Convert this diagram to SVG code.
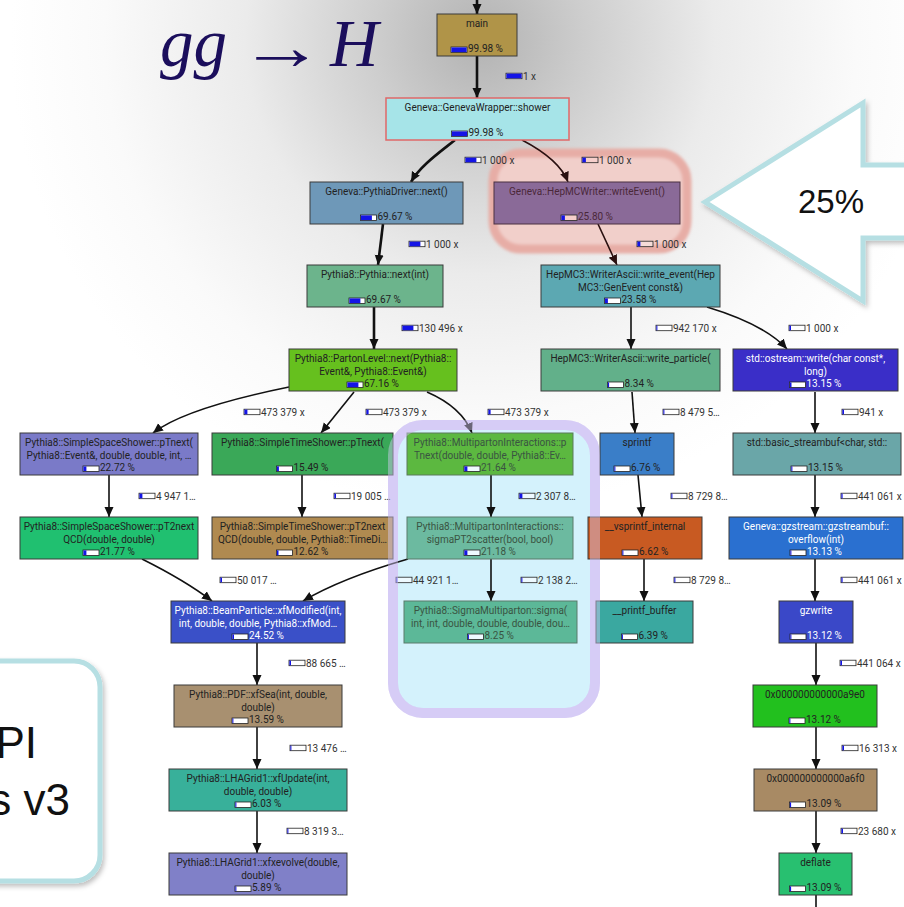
<svg xmlns="http://www.w3.org/2000/svg" width="904" height="907" viewBox="0 0 904 907">
<defs>
<radialGradient id="bg" cx="480" cy="40" r="470" gradientUnits="userSpaceOnUse">
<stop offset="0" stop-color="#b2b2b2"/>
<stop offset="0.22" stop-color="#cdcdcd"/>
<stop offset="0.5" stop-color="#ebebeb"/>
<stop offset="0.8" stop-color="#fafafa"/>
<stop offset="1" stop-color="#ffffff"/>
</radialGradient>
<filter id="sh" x="-20%" y="-20%" width="140%" height="140%">
<feDropShadow dx="2" dy="3" stdDeviation="2.5" flood-color="#000" flood-opacity="0.25"/>
</filter>
<filter id="soft" x="-10%" y="-10%" width="120%" height="120%">
<feGaussianBlur stdDeviation="1.5"/>
</filter>
<marker id="ah" markerUnits="userSpaceOnUse" markerWidth="10" markerHeight="10" refX="10" refY="4.5" orient="auto">
<path d="M0,0 L10,4.5 L0,9 z" fill="#111"/>
</marker>
<marker id="ahr" markerUnits="userSpaceOnUse" markerWidth="10" markerHeight="10" refX="10" refY="4.5" orient="auto">
<path d="M0,0 L10,4.5 L0,9 z" fill="#2a1010"/>
</marker>
<style>
.nd rect.b{stroke:#3a3a3a;stroke-width:1}
.nd text{font-family:Roboto,"Noto Sans",sans-serif;font-size:10px;fill:#222}
.nd text.c{text-anchor:middle}
.nd.w text{fill:#ffffff}
.nd.m text{fill:#3a5442}
.nd.r text{fill:#4a2838}
.bw{fill:#ffffff;stroke:#222;stroke-width:0.8}
.bb{fill:#1414e6}
.lb text{font-family:Roboto,"Noto Sans",sans-serif;font-size:10px;fill:#333}
.e{fill:none;stroke:#111;stroke-width:1.6;marker-end:url(#ah)}
.e.t{stroke-width:2.6}
.e.r{stroke:#2a1010;marker-end:url(#ahr)}
</style>
</defs>

<rect x="0" y="0" width="904" height="907" fill="url(#bg)"/>

<g id="title">
<text x="160" y="66" font-family="Liberation Serif, serif" font-style="italic" font-size="67" fill="#1b0e5c">gg</text>
<text transform="translate(239,69) scale(1.3,1)" x="0" y="0" font-family="Liberation Serif, DejaVu Serif, serif" font-size="66" fill="#1b0e5c">→</text>
<text x="330" y="66" font-family="Liberation Serif, serif" font-style="italic" font-size="67" fill="#1b0e5c">H</text>
</g>

<g id="callout-arrow">
<polygon points="705,202 863,103 863,165 912,165 912,238 863,238 863,301" fill="#ffffff" stroke="#b6dfe3" stroke-width="5" stroke-linejoin="miter" filter="url(#sh)"/>
<text x="798" y="213" font-family="Liberation Sans, Arial, sans-serif" font-size="33" fill="#111">25%</text>
</g>

<g id="side-box">
<rect x="-40" y="661" width="140" height="220" rx="26" fill="#ffffff" stroke="#b6dfe3" stroke-width="5" filter="url(#sh)"/>
<text x="37" y="758" text-anchor="end" font-family="Liberation Sans, Arial, sans-serif" font-size="44" fill="#111">PI</text>
<text x="70" y="815" text-anchor="end" font-family="Liberation Sans, Arial, sans-serif" font-size="44" fill="#111">s v3</text>
</g>

<g id="highlights">
<rect x="493" y="153" width="194" height="96" rx="28" fill="#f1cfca" stroke="#e7ada6" stroke-width="9" filter="url(#soft)"/>
<rect x="393" y="425" width="202" height="288" rx="30" fill="#d4f2fc" stroke="#d6cdf6" stroke-width="10"/>
</g>

<g id="connectors">
<path class="e t" d="M477,0 L477,14"/>
<path class="e t" d="M477,56 L477,98"/>
<path class="e t" d="M455,140 C440,152 420,166 411,182"/>
<path class="e r" d="M522,140 C545,152 562,166 568,182"/>
<path class="e t" d="M383,224 L378,265"/>
<path class="e r" d="M598,224 L617,265"/>
<path class="e t" d="M374,307 L374,349"/>
<path class="e" d="M631,307 L631,349"/>
<path class="e" d="M707,307 C740,317 770,330 787,349"/>
<path class="e" d="M289,387 C240,397 180,412 153,433"/>
<path class="e" d="M354,392 L321,433"/>
<path class="e" d="M427,392 C450,402 465,415 472,433"/>
<path class="e" d="M632,392 L635,433"/>
<path class="e" d="M815,392 L815,433"/>
<path class="e" d="M109,475 L109,517"/>
<path class="e" d="M302,475 L302,517"/>
<path class="e" d="M491,475 L491,517"/>
<path class="e" d="M638,475 L642,517"/>
<path class="e" d="M815,475 L815,517"/>
<path class="e" d="M142,559 C170,573 195,588 212,601"/>
<path class="e" d="M408,559 C370,570 330,585 303,601"/>
<path class="e" d="M491,559 L491,601"/>
<path class="e" d="M644,559 L644,601"/>
<path class="e" d="M815,559 L815,601"/>
<path class="e" d="M257,643 L257,685"/>
<path class="e" d="M816,643 L816,685"/>
<path class="e" d="M257,727 L257,769"/>
<path class="e" d="M816,727 L816,769"/>
<path class="e" d="M257,811 L257,853"/>
<path class="e" d="M816,811 L816,853"/>
<path d="M816,895 L816,907" fill="none" stroke="#111" stroke-width="1.6"/>
</g>

<g id="edge-labels" class="lb">
<rect class="bw" x="506" y="73.2" width="16" height="5.5"/><rect class="bb" x="506.4" y="73.6" width="15.2" height="4.7"/><text x="523" y="79.5">1 x</text>
<rect class="bw" x="465" y="157.2" width="16" height="5.5"/><rect class="bb" x="465.4" y="157.6" width="11" height="4.7"/><text x="482" y="163.5">1 000 x</text>
<rect class="bw" x="582" y="157.2" width="16" height="5.5" style="fill:#f6cfcb"/><rect class="bb" x="582.4" y="157.6" width="3.5" height="4.7"/><text x="599" y="163.5">1 000 x</text>
<rect class="bw" x="409" y="241.2" width="16" height="5.5"/><rect class="bb" x="409.4" y="241.6" width="11" height="4.7"/><text x="426" y="247.5">1 000 x</text>
<rect class="bw" x="637" y="241.2" width="16" height="5.5" style="fill:#f6dcd8"/><rect class="bb" x="637.4" y="241.6" width="3" height="4.7"/><text x="654" y="247.5">1 000 x</text>
<rect class="bw" x="402" y="325.2" width="16" height="5.5"/><rect class="bb" x="402.4" y="325.6" width="11" height="4.7"/><text x="419" y="331.5">130 496 x</text>
<rect class="bw" x="656" y="325.2" width="16" height="5.5"/><rect class="bb" x="656.4" y="325.6" width="1" height="4.7"/><text x="673" y="331.5">942 170 x</text>
<rect class="bw" x="789" y="325.2" width="16" height="5.5"/><rect class="bb" x="789.4" y="325.6" width="1.6" height="4.7"/><text x="806" y="331.5">1 000 x</text>
<rect class="bw" x="244" y="409.2" width="16" height="5.5"/><rect class="bb" x="244.4" y="409.6" width="3" height="4.7"/><text x="261" y="415.5">473 379 x</text>
<rect class="bw" x="366" y="409.2" width="16" height="5.5"/><rect class="bb" x="366.4" y="409.6" width="2.2" height="4.7"/><text x="383" y="415.5">473 379 x</text>
<rect class="bw" x="488" y="409.2" width="16" height="5.5"/><rect class="bb" x="488.4" y="409.6" width="2.2" height="4.7"/><text x="505" y="415.5">473 379 x</text>
<rect class="bw" x="663" y="409.2" width="16" height="5.5"/><rect class="bb" x="663.4" y="409.6" width="1" height="4.7"/><text x="680" y="415.5">8 479 5…</text>
<rect class="bw" x="842" y="409.2" width="16" height="5.5"/><rect class="bb" x="842.4" y="409.6" width="1.6" height="4.7"/><text x="859" y="415.5">941 x</text>
<rect class="bw" x="139" y="493.2" width="16" height="5.5"/><rect class="bb" x="139.4" y="493.6" width="3" height="4.7"/><text x="156" y="499.5">4 947 1…</text>
<rect class="bw" x="334" y="493.2" width="16" height="5.5"/><rect class="bb" x="334.4" y="493.6" width="1.6" height="4.7"/><text x="351" y="499.5">19 005 …</text>
<rect class="bw" x="519" y="493.2" width="16" height="5.5" style="fill:#eefaff"/><rect class="bb" x="519.4" y="493.6" width="3" height="4.7"/><text x="536" y="499.5">2 307 8…</text>
<rect class="bw" x="671" y="493.2" width="16" height="5.5"/><rect class="bb" x="671.4" y="493.6" width="1" height="4.7"/><text x="688" y="499.5">8 729 8…</text>
<rect class="bw" x="841" y="493.2" width="16" height="5.5"/><rect class="bb" x="841.4" y="493.6" width="1.2" height="4.7"/><text x="858" y="499.5">441 061 x</text>
<rect class="bw" x="220" y="577.2" width="16" height="5.5"/><rect class="bb" x="220.4" y="577.6" width="1.6" height="4.7"/><text x="237" y="583.5">50 017 …</text>
<rect class="bw" x="396" y="577.2" width="16" height="5.5" style="fill:#eefaff"/><rect class="bb" x="396.4" y="577.6" width="1" height="4.7"/><text x="413" y="583.5">44 921 1…</text>
<rect class="bw" x="521" y="577.2" width="16" height="5.5" style="fill:#eefaff"/><rect class="bb" x="521.4" y="577.6" width="1" height="4.7"/><text x="538" y="583.5">2 138 2…</text>
<rect class="bw" x="674" y="577.2" width="16" height="5.5"/><rect class="bb" x="674.4" y="577.6" width="1" height="4.7"/><text x="691" y="583.5">8 729 8…</text>
<rect class="bw" x="841" y="577.2" width="16" height="5.5"/><rect class="bb" x="841.4" y="577.6" width="1.2" height="4.7"/><text x="858" y="583.5">441 061 x</text>
<rect class="bw" x="289" y="660.2" width="16" height="5.5"/><rect class="bb" x="289.4" y="660.6" width="1.6" height="4.7"/><text x="306" y="666.5">88 665 …</text>
<rect class="bw" x="840" y="660.2" width="16" height="5.5"/><rect class="bb" x="840.4" y="660.6" width="1.6" height="4.7"/><text x="857" y="666.5">441 064 x</text>
<rect class="bw" x="290" y="745.2" width="16" height="5.5"/><rect class="bb" x="290.4" y="745.6" width="1" height="4.7"/><text x="307" y="751.5">13 476 …</text>
<rect class="bw" x="842" y="745.2" width="16" height="5.5"/><rect class="bb" x="842.4" y="745.6" width="1.6" height="4.7"/><text x="859" y="751.5">16 313 x</text>
<rect class="bw" x="287" y="828.2" width="16" height="5.5"/><rect class="bb" x="287.4" y="828.6" width="1" height="4.7"/><text x="304" y="834.5">8 319 3…</text>
<rect class="bw" x="841" y="828.2" width="16" height="5.5"/><rect class="bb" x="841.4" y="828.6" width="1.6" height="4.7"/><text x="858" y="834.5">23 680 x</text>
</g>

<g id="n-main" class="nd"><rect class="b" x="437" y="14" width="80" height="42" fill="#b09448"/><text class="c" x="477" y="27">main</text><rect class="bw" x="451" y="47" width="16" height="5.5"/><rect class="bb" x="451.4" y="47.4" width="15.2" height="4.7"/><text x="468" y="52">99.98 %</text></g>

<g id="n-shower" class="nd"><rect class="b" x="386" y="98" width="183" height="42" fill="#a6e4e8" style="stroke:#e06868;stroke-width:1.5"/><text class="c" x="477.5" y="111">Geneva::GenevaWrapper::shower</text><rect class="bw" x="451.5" y="131" width="16" height="5.5"/><rect class="bb" x="451.9" y="131.4" width="15.2" height="4.7"/><text x="468.5" y="136">99.98 %</text></g>

<g id="n-pythiadriver" class="nd"><rect class="b" x="310" y="182" width="153" height="42" fill="#6e98b8"/><text class="c" x="386.5" y="195">Geneva::PythiaDriver::next()</text><rect class="bw" x="360.5" y="215" width="16" height="5.5"/><rect class="bb" x="360.9" y="215.4" width="11" height="4.7"/><text x="377.5" y="220">69.67 %</text></g>

<g id="n-hepmcwriter" class="nd r"><rect class="b" x="494" y="182" width="186" height="42" fill="#8a6a98" style="stroke:#4a3040"/><text class="c" x="587" y="195">Geneva::HepMCWriter::writeEvent()</text><rect class="bw" x="561" y="215" width="16" height="5.5" style="fill:#f6cfcb"/><rect class="bb" x="561.4" y="215.4" width="3.5" height="4.7"/><text x="578" y="220">25.80 %</text></g>

<g id="n-pythianext" class="nd"><rect class="b" x="307" y="265" width="136" height="42" fill="#6cb48c"/><text class="c" x="375" y="278">Pythia8::Pythia::next(int)</text><rect class="bw" x="349" y="298" width="16" height="5.5"/><rect class="bb" x="349.4" y="298.4" width="11" height="4.7"/><text x="366" y="303">69.67 %</text></g>

<g id="n-writeevent" class="nd"><rect class="b" x="541" y="265" width="179" height="42" fill="#5ca8b2"/><text class="c" x="630.5" y="278">HepMC3::WriterAscii::write_event(Hep</text><text class="c" x="630.5" y="290.5">MC3::GenEvent const&amp;)</text><rect class="bw" x="604.5" y="298" width="16" height="5.5"/><rect class="bb" x="604.9" y="298.4" width="3" height="4.7"/><text x="621.5" y="303">23.58 %</text></g>

<g id="n-partonlevel" class="nd"><rect class="b" x="289" y="349" width="168" height="42" fill="#66c01e"/><text class="c" x="373" y="362">Pythia8::PartonLevel::next(Pythia8::</text><text class="c" x="373" y="374.5">Event&amp;, Pythia8::Event&amp;)</text><rect class="bw" x="347" y="382" width="16" height="5.5"/><rect class="bb" x="347.4" y="382.4" width="11" height="4.7"/><text x="364" y="387">67.16 %</text></g>

<g id="n-writeparticle" class="nd"><rect class="b" x="541" y="349" width="179" height="42" fill="#62b08a"/><text class="c" x="630.5" y="362">HepMC3::WriterAscii::write_particle(</text><rect class="bw" x="607.5" y="382" width="16" height="5.5"/><rect class="bb" x="607.9" y="382.4" width="1.2" height="4.7"/><text x="624.5" y="387">8.34 %</text></g>

<g id="n-ostreamwrite" class="nd w"><rect class="b" x="733" y="349" width="165" height="42" fill="#3a2ec8"/><text class="c" x="815.5" y="362">std::ostream::write(char const*,</text><text class="c" x="815.5" y="374.5">long)</text><rect class="bw" x="789.5" y="382" width="16" height="5.5"/><rect class="bb" x="789.9" y="382.4" width="1.6" height="4.7"/><text x="806.5" y="387">13.15 %</text></g>

<g id="n-spacepTnext" class="nd"><rect class="b" x="20" y="433" width="178" height="42" fill="#7a7ac8"/><text class="c" x="109" y="446">Pythia8::SimpleSpaceShower::pTnext(</text><text class="c" x="109" y="458.5">Pythia8::Event&amp;, double, double, int, …</text><rect class="bw" x="83" y="466" width="16" height="5.5"/><rect class="bb" x="83.4" y="466.4" width="3" height="4.7"/><text x="100" y="471">22.72 %</text></g>

<g id="n-timepTnext" class="nd"><rect class="b" x="212" y="433" width="181" height="42" fill="#3aa858"/><text class="c" x="302.5" y="446">Pythia8::SimpleTimeShower::pTnext(</text><rect class="bw" x="276.5" y="466" width="16" height="5.5"/><rect class="bb" x="276.9" y="466.4" width="2" height="4.7"/><text x="293.5" y="471">15.49 %</text></g>

<g id="n-mpipTnext" class="nd m"><rect class="b" x="407" y="433" width="166" height="42" fill="#5cb840" style="stroke:#5a7a5a"/><text class="c" x="490" y="446">Pythia8::MultipartonInteractions::p</text><text class="c" x="490" y="458.5">Tnext(double, double, Pythia8::Ev…</text><rect class="bw" x="464" y="466" width="16" height="5.5" style="fill:#eefaff"/><rect class="bb" x="464.4" y="466.4" width="3" height="4.7"/><text x="481" y="471">21.64 %</text></g>

<g id="n-sprintf" class="nd"><rect class="b" x="600" y="433" width="74" height="42" fill="#3a7ec8"/><text class="c" x="637" y="446">sprintf</text><rect class="bw" x="614" y="466" width="16" height="5.5"/><rect class="bb" x="614.4" y="466.4" width="1" height="4.7"/><text x="631" y="471">6.76 %</text></g>

<g id="n-basicstreambuf" class="nd"><rect class="b" x="733" y="433" width="168" height="42" fill="#6aa6a8"/><text class="c" x="817" y="446">std::basic_streambuf&lt;char, std::</text><rect class="bw" x="791" y="466" width="16" height="5.5"/><rect class="bb" x="791.4" y="466.4" width="1" height="4.7"/><text x="808" y="471">13.15 %</text></g>

<g id="n-spacepT2" class="nd"><rect class="b" x="20" y="517" width="178" height="42" fill="#20c070"/><text class="c" x="109" y="530">Pythia8::SimpleSpaceShower::pT2next</text><text class="c" x="109" y="542.5">QCD(double, double)</text><rect class="bw" x="83" y="550" width="16" height="5.5"/><rect class="bb" x="83.4" y="550.4" width="3" height="4.7"/><text x="100" y="555">21.77 %</text></g>

<g id="n-timepT2" class="nd"><rect class="b" x="212" y="517" width="181" height="42" fill="#b08a50"/><text class="c" x="302.5" y="530">Pythia8::SimpleTimeShower::pT2next</text><text class="c" x="302.5" y="542.5">QCD(double, double, Pythia8::TimeDi…</text><rect class="bw" x="276.5" y="550" width="16" height="5.5"/><rect class="bb" x="276.9" y="550.4" width="1.6" height="4.7"/><text x="293.5" y="555">12.62 %</text></g>

<g id="n-sigmapt2scatter" class="nd m"><rect class="b" x="407" y="517" width="166" height="42" fill="#6cbaa0" style="stroke:#5a7a6a"/><text class="c" x="490" y="530">Pythia8::MultipartonInteractions::</text><text class="c" x="490" y="542.5">sigmaPT2scatter(bool, bool)</text><rect class="bw" x="464" y="550" width="16" height="5.5" style="fill:#eefaff"/><rect class="bb" x="464.4" y="550.4" width="3" height="4.7"/><text x="481" y="555">21.18 %</text></g>

<g id="n-vsprintf" class="nd"><rect class="b" x="588" y="517" width="114" height="42" fill="#c85a22"/><text class="c" x="645" y="530">__vsprintf_internal</text><rect class="bw" x="622" y="550" width="16" height="5.5"/><rect class="bb" x="622.4" y="550.4" width="1" height="4.7"/><text x="639" y="555">6.62 %</text></g>

<g id="n-overflow" class="nd w"><rect class="b" x="729" y="517" width="174" height="42" fill="#2a70d0"/><text class="c" x="816" y="530">Geneva::gzstream::gzstreambuf::</text><text class="c" x="816" y="542.5">overflow(int)</text><rect class="bw" x="790" y="550" width="16" height="5.5"/><rect class="bb" x="790.4" y="550.4" width="1" height="4.7"/><text x="807" y="555">13.13 %</text></g>

<g id="n-beam" class="nd w"><rect class="b" x="171" y="601" width="174" height="42" fill="#3a50c8"/><text class="c" x="258" y="614">Pythia8::BeamParticle::xfModified(int,</text><text class="c" x="258" y="626.5">int, double, double, Pythia8::xfMod…</text><rect class="bw" x="232" y="634" width="16" height="5.5"/><rect class="bb" x="232.4" y="634.4" width="1.6" height="4.7"/><text x="249" y="639">24.52 %</text></g>

<g id="n-sigma" class="nd m"><rect class="b" x="404" y="601" width="173" height="42" fill="#5cb898" style="stroke:#5a7a6a"/><text class="c" x="490.5" y="614">Pythia8::SigmaMultiparton::sigma(</text><text class="c" x="490.5" y="626.5">int, int, double, double, double, dou…</text><rect class="bw" x="467.5" y="634" width="16" height="5.5" style="fill:#eefaff"/><rect class="bb" x="467.9" y="634.4" width="1" height="4.7"/><text x="484.5" y="639">8.25 %</text></g>

<g id="n-printfbuffer" class="nd"><rect class="b" x="596" y="601" width="97" height="42" fill="#3aa8a0"/><text class="c" x="644.5" y="614">__printf_buffer</text><rect class="bw" x="621.5" y="634" width="16" height="5.5"/><rect class="bb" x="621.9" y="634.4" width="1" height="4.7"/><text x="638.5" y="639">6.39 %</text></g>

<g id="n-gzwrite" class="nd w"><rect class="b" x="779" y="601" width="74" height="42" fill="#3a48c8"/><text class="c" x="816" y="614">gzwrite</text><rect class="bw" x="790" y="634" width="16" height="5.5"/><rect class="bb" x="790.4" y="634.4" width="1" height="4.7"/><text x="807" y="639">13.12 %</text></g>

<g id="n-xfsea" class="nd"><rect class="b" x="174" y="685" width="168" height="42" fill="#a89070"/><text class="c" x="258" y="698">Pythia8::PDF::xfSea(int, double,</text><text class="c" x="258" y="710.5">double)</text><rect class="bw" x="232" y="718" width="16" height="5.5"/><rect class="bb" x="232.4" y="718.4" width="1" height="4.7"/><text x="249" y="723">13.59 %</text></g>

<g id="n-a9e0" class="nd"><rect class="b" x="753" y="685" width="124" height="42" fill="#22c01e"/><text class="c" x="815" y="698">0x000000000000a9e0</text><rect class="bw" x="789" y="718" width="16" height="5.5"/><rect class="bb" x="789.4" y="718.4" width="1" height="4.7"/><text x="806" y="723">13.12 %</text></g>

<g id="n-xfupdate" class="nd"><rect class="b" x="169" y="769" width="178" height="42" fill="#38b09a"/><text class="c" x="258" y="782">Pythia8::LHAGrid1::xfUpdate(int,</text><text class="c" x="258" y="794.5">double, double)</text><rect class="bw" x="235" y="802" width="16" height="5.5"/><rect class="bb" x="235.4" y="802.4" width="1" height="4.7"/><text x="252" y="807">6.03 %</text></g>

<g id="n-a6f0" class="nd"><rect class="b" x="754" y="769" width="123" height="42" fill="#a88a64"/><text class="c" x="815.5" y="782">0x000000000000a6f0</text><rect class="bw" x="789.5" y="802" width="16" height="5.5"/><rect class="bb" x="789.9" y="802.4" width="1.2" height="4.7"/><text x="806.5" y="807">13.09 %</text></g>

<g id="n-xfxevolve" class="nd"><rect class="b" x="169" y="853" width="178" height="42" fill="#8080c8"/><text class="c" x="258" y="866">Pythia8::LHAGrid1::xfxevolve(double,</text><text class="c" x="258" y="878.5">double)</text><rect class="bw" x="235" y="886" width="16" height="5.5"/><rect class="bb" x="235.4" y="886.4" width="1" height="4.7"/><text x="252" y="891">5.89 %</text></g>

<g id="n-deflate" class="nd"><rect class="b" x="779" y="853" width="73" height="42" fill="#28c070"/><text class="c" x="815.5" y="866">deflate</text><rect class="bw" x="789.5" y="886" width="16" height="5.5"/><rect class="bb" x="789.9" y="886.4" width="1.2" height="4.7"/><text x="806.5" y="891">13.09 %</text></g>

<g id="highlight-overlay">
<rect x="393" y="425" width="202" height="288" rx="30" fill="none" stroke="#d6cdf6" stroke-width="10" stroke-opacity="0.45"/>
</g>
</svg>
